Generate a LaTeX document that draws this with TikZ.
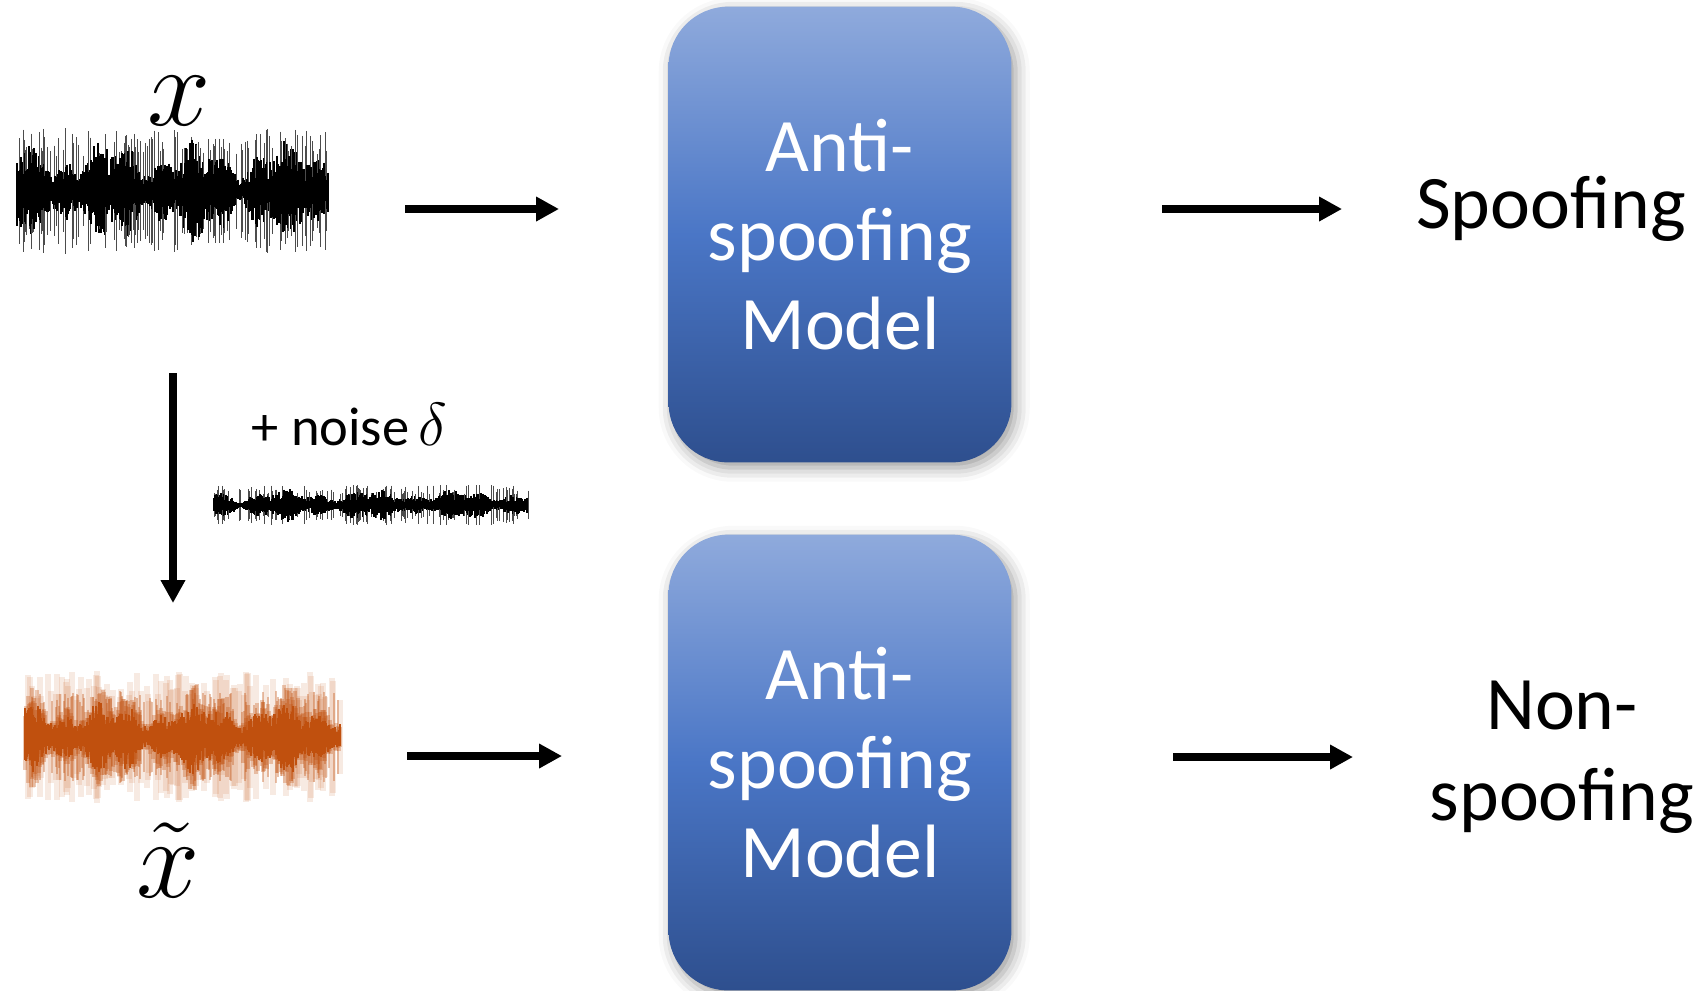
\documentclass[tikz,border=0pt]{standalone}
\usepackage{fontspec}
\setmainfont{Carlito}
\usetikzlibrary{arrows.meta,shadows.blur}

\definecolor{boxtop}{HTML}{8FAADC}
\definecolor{boxmid}{HTML}{4A76C6}
\definecolor{boxbot}{HTML}{2E4F8E}
\definecolor{waveorange}{HTML}{C0500E}

% random audio trace: x from, x to, centre y, half height, core style, spike style
\newcommand{\drawwave}[6]{%
  \foreach \i in {#1,...,#2}{%
    \pgfmathsetmacro{\env}{0.62+0.22*sin(\i*4.1)+0.16*sin(\i*11.3+70)}%
    \pgfmathsetmacro{\yu}{-#3+#4*\env*(0.3+0.55*rnd)}%
    \pgfmathsetmacro{\yd}{-#3-#4*\env*(0.3+0.55*rnd)}%
    \draw[#5] (\i,\yu) -- (\i,\yd);%
    \pgfmathsetmacro{\sp}{#4*(0.55+0.45*rnd)*(rnd<0.35)}%
    \draw[#6] (\i,-#3+\sp) -- (\i,-#3-\sp);%
  }%
}
\newcommand{\bigmath}[1]{\scalebox{1.3}{\fontsize{24.88}{30}\selectfont$#1$}}

\begin{document}
\begin{tikzpicture}[x=0.01cm, y=0.01cm,
    model/.style={rounded corners=17pt, minimum width=97.5pt, minimum height=129.6pt,
      top color=boxtop, bottom color=boxbot, middle color=boxmid,
      text=white, align=center, font=\fontsize{21.5}{25.3}\selectfont,
      blur shadow={shadow xshift=1.2pt, shadow yshift=-1.5pt, shadow blur radius=4pt, shadow opacity=40}},
    lbl/.style={inner sep=0pt, font=\fontsize{21.5}{25.8}\selectfont},
    flow/.style={line width=2.3pt, -{Triangle[length=6.5pt,width=6.6pt]}}]
  \useasboundingbox (0,0) rectangle (1698,-990);
  \pgfmathsetseed{11}

  % input, noise and perturbed input
  \drawwave{17}{328}{191}{63}{black,line width=.45pt}{black!70,line width=.15pt}
  \drawwave{214}{528}{505}{20}{black,line width=.45pt}{black!70,line width=.15pt}
  \drawwave{25}{340}{737}{66}{waveorange,line width=1pt,opacity=.3}{waveorange,line width=1.5pt,opacity=.12}
  \drawwave{25}{340}{737}{46}{waveorange,line width=.6pt}{waveorange,line width=.8pt,opacity=.35}

  \node[inner sep=0pt, anchor=base] (x) at (179,-125) {\bigmath{x}};
  \node[inner sep=0pt, anchor=base] (xt) at (168,-897) {\bigmath{\tilde{x}}};
  \node[inner sep=0pt, anchor=base west, font=\fontsize{15.5}{18}\selectfont] (noise) at (251,-445)
    {+ noise\,{\fontsize{17.28}{20}\selectfont$\delta$}};

  \node[model] (asm1) at (840,-234.5) {Anti-\\spoofing\\Model};
  \node[model] (asm2) at (840,-762.5) {Anti-\\spoofing\\Model};

  \node[lbl, anchor=base] (spoof) at (1551,-228) {Spoofing};
  \node[lbl, align=center] (nonspoof) at (1562,-757) {Non-\\spoofing};

  \coordinate (in1s) at (405,-209);
  \coordinate (in1e) at (559,-209);
  \coordinate (out1s) at (1162,-209);
  \coordinate (out1e) at (1342,-209);
  \coordinate (in2s) at (407,-756);
  \coordinate (in2e) at (562,-756);
  \coordinate (out2s) at (1173,-757);
  \coordinate (out2e) at (1353,-757);
  \coordinate (adds) at (173,-373);
  \coordinate (adde) at (173,-603);

  \draw[flow] (in1s) -- (in1e);
  \draw[flow] (out1s) -- (out1e);
  \draw[flow] (in2s) -- (in2e);
  \draw[flow] (out2s) -- (out2e);
  \draw[flow] (adds) -- (adde);
\end{tikzpicture}
\end{document}
